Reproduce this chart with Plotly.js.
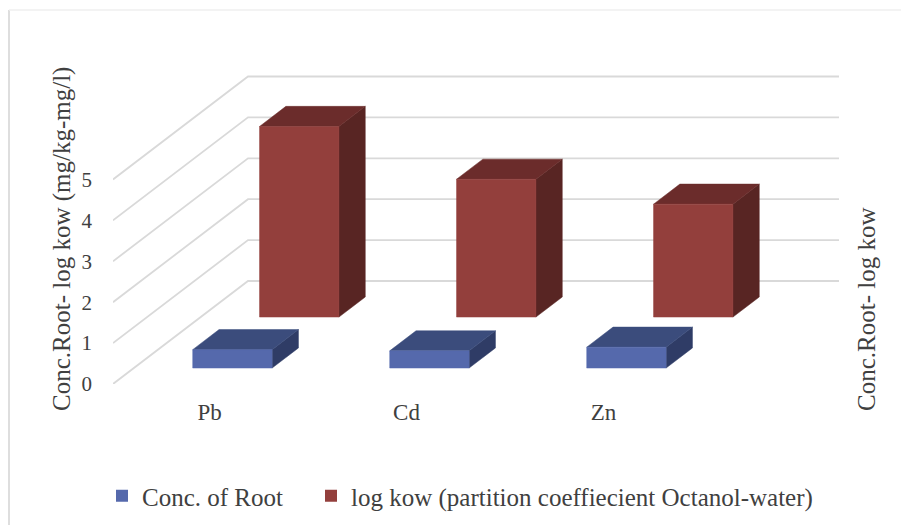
<!DOCTYPE html>
<html><head><meta charset="utf-8">
<script src="https://cdn.plot.ly/plotly-3.0.1.min.js"></script>
<style>html,body{margin:0;padding:0;background:#fff}#c{width:903px;height:525px}</style>
</head><body><div id="c"></div>
<script>
const categories = ['Pb','Cd','Zn'];
const concRoot = [0.45,0.42,0.51];
const logKow = [4.66,3.37,2.76];
const yTicks = [0,1,2,3,4,5];
const seriesNames = ['Conc. of Root','log kow (partition coeffiecient Octanol-water)'];
const frontColors = ['#5569ac','#933f3c'];
const topColors = ['#3b4c7c','#6b2c2b'];
const sideColors = ['#2f3c66','#582523'];
const textColor = '#404040';
const serif = '"Liberation Serif", serif';

// Oblique projection settings, expressed in axis units.
const pxX = 197, pxY = 40.9;
const depthX = 135/pxX, depthY = 103/pxY;
const barWidth = 0.403;
const bands = [[0.155,0.35],[0.65,0.845]];
const xMax = (839-113)/pxX, yMax = (384-70)/pxY;
const project = (x,v,d) => [x + d*depthX, v + d*depthY];

function poly(pts,color,name){
  const p = pts.map(q => project(q[0],q[1],q[2]));
  p.push(p[0]);
  return {x:p.map(q=>q[0]),y:p.map(q=>q[1]),mode:'lines',fill:'toself',fillcolor:color,
    line:{color:color,width:0.5},showlegend:false,hoverinfo:'text',text:name,type:'scatter'};
}

const traces = [];
const gx=[],gy=[];
yTicks.forEach(v=>{
  [[0,0],[0,1],[xMax-depthX,1]].forEach(a=>{const q=project(a[0],v,a[1]);gx.push(q[0]);gy.push(q[1]);});
  gx.push(null);gy.push(null);
});
traces.push({x:gx,y:gy,mode:'lines',line:{color:'#d9d9d9',width:1.8},showlegend:false,hoverinfo:'skip',type:'scatter'});

function addBars(values,s){
  values.forEach((v,i)=>{
    const x0=i+0.5-barWidth/2, x1=x0+barWidth, d0=bands[s][0], d1=bands[s][1];
    const label=categories[i]+': '+v;
    traces.push(poly([[x1,0,d0],[x1,0,d1],[x1,v,d1],[x1,v,d0]],sideColors[s],label));
    traces.push(poly([[x0,v,d0],[x1,v,d0],[x1,v,d1],[x0,v,d1]],topColors[s],label));
    traces.push(poly([[x0,0,d0],[x1,0,d0],[x1,v,d0],[x0,v,d0]],frontColors[s],label));
  });
}
addBars(logKow,1);
addBars(concRoot,0);
seriesNames.forEach((n,s)=>traces.push({x:[null],y:[null],name:n,mode:'markers',type:'scatter',
  legend:s?'legend2':'legend',marker:{symbol:'square',size:15,color:frontColors[s]}}));

const px = x => (x-113)/726, py = y => (384-y)/314;
const legendStyle = x => ({orientation:'h',x:px(x),xanchor:'left',y:py(473),yanchor:'top',
    font:{family:serif,size:25,color:textColor},itemsizing:'constant',bgcolor:'rgba(0,0,0,0)'});
const layout = {
  width:903,height:525,paper_bgcolor:'#fff',plot_bgcolor:'rgba(0,0,0,0)',
  margin:{l:113,r:64,t:70,b:141,pad:0,autoexpand:false},
  font:{family:serif,color:textColor},
  xaxis:{range:[0,xMax],tickmode:'array',tickvals:[0.49,1.49,2.49],ticktext:categories,showgrid:false,zeroline:false,
    showline:false,ticks:'',ticklabelstandoff:12,tickfont:{family:serif,size:23,color:textColor},fixedrange:true},
  yaxis:{range:[0,yMax],tickmode:'array',tickvals:yTicks,ticktext:yTicks.map(String),showgrid:false,zeroline:false,
    showline:false,ticks:'',ticklabelstandoff:20,tickfont:{family:serif,size:21,color:textColor},fixedrange:true},
  showlegend:true,
  legend:legendStyle(102),
  legend2:legendStyle(311),
  annotations:[
    {text:'Conc.Root- log kow (mg/kg-mg/l)',xref:'paper',yref:'paper',x:px(62),y:py(239),xanchor:'center',yanchor:'middle',
     textangle:-90,showarrow:false,font:{family:serif,size:25,color:textColor}},
    {text:'Conc.Root- log kow',xref:'paper',yref:'paper',x:px(866),y:py(310),xanchor:'center',yanchor:'middle',
     textangle:-90,showarrow:false,font:{family:serif,size:25,color:textColor}}
  ],
  shapes:[
    {type:'line',xref:'paper',yref:'paper',x0:px(9),x1:px(9),y0:py(525),y1:py(10),line:{color:'#dedede',width:2},layer:'below'},
    {type:'line',xref:'paper',yref:'paper',x0:px(9),x1:px(901),y0:py(10),y1:py(10),line:{color:'#efefef',width:1.5},layer:'below'}
  ]
};
Plotly.newPlot('c',traces,layout,{displayModeBar:false,staticPlot:true});
</script></body></html>
